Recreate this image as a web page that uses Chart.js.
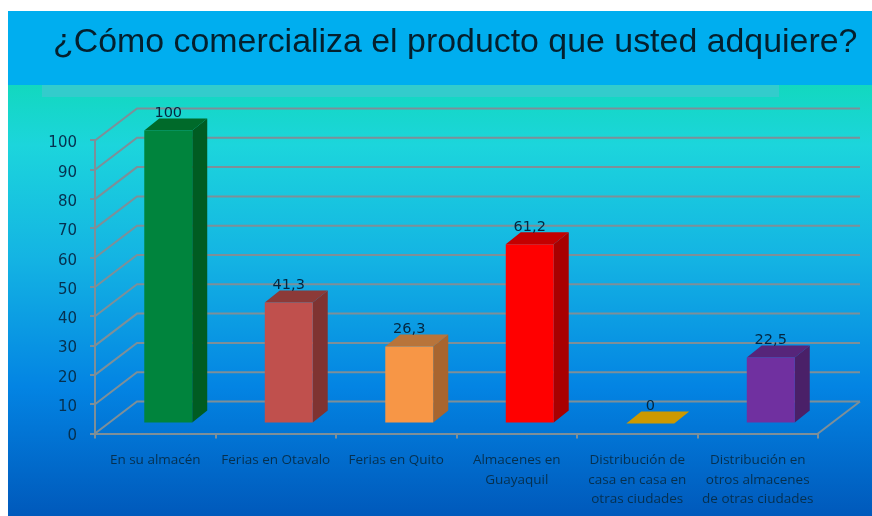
<!DOCTYPE html>
<html lang="es">
<head>
<meta charset="utf-8">
<title>Comercialización</title>
<style>
    html, body { margin: 0; padding: 0; background: #fff; }
    canvas { display: block; }
</style>
<script src="https://cdn.jsdelivr.net/npm/chart.js@4"></script>
</head>
<body>
<canvas id="chart" width="872" height="516"></canvas>
<script>
    "use strict";

    var chartTitle = "¿Cómo comercializa el producto que usted adquiere?";
    var categories = [
        "En su almacén",
        "Ferias en Otavalo",
        "Ferias en Quito",
        ["Almacenes en", "Guayaquil"],
        ["Distribución de", "casa en casa en", "otras ciudades"],
        ["Distribución en", "otros almacenes", "de otras ciudades"]
    ];
    var percentages = [100, 41.3, 26.3, 61.2, 0, 22.5];

    var frontColors = ["#00843d", "#c0504d", "#f79646", "#ff0000", "#cc9900", "#7030a0"];
    var sideColors = ["#005c22", "#7f3331", "#a8652f", "#a80000", "#8a6800", "#4a2068"];
    var topColors = ["#006a2a", "#8c3a38", "#b8743a", "#c40000", "#cc9900", "#56257a"];

    var GRID_COLOR = "#7e8f98";
    var TEXT_COLOR = "#06304f";

    // offset of the back wall from the axes, and of the bars from the axes
    var WALL_DX = 42, WALL_DY = -32;
    var BAR_DX = 13, BAR_DY = -10;
    var DEPTH_DX = 15, DEPTH_DY = -12;

    function polygon(ctx, points, color) {
        ctx.fillStyle = color;
        ctx.beginPath();
        points.forEach(function (p, i) {
            if (i === 0) ctx.moveTo(p[0], p[1]);
            else ctx.lineTo(p[0], p[1]);
        });
        ctx.closePath();
        ctx.fill();
    }

    var slidePlugin = {
        id: "slide",
        // the title would otherwise get squeezed into the plot width
        afterLayout: function (chart) {
            chart.titleBlock.right = chart.width;
        },
        beforeDraw: function (chart) {
            var ctx = chart.ctx;
            var gradient = ctx.createLinearGradient(0, 85, 0, 516);
            gradient.addColorStop(0, "#12d8bf");
            gradient.addColorStop(0.14, "#1cd5dc");
            gradient.addColorStop(0.4, "#14b4e3");
            gradient.addColorStop(0.7, "#0384e3");
            gradient.addColorStop(1, "#0059bb");

            ctx.save();
            ctx.fillStyle = "#00aeef";
            ctx.fillRect(8, 11, 864, 74);
            ctx.fillStyle = gradient;
            ctx.fillRect(8, 85, 864, 431);
            ctx.fillStyle = "#33cccc";
            ctx.fillRect(42, 85, 737, 12);
            ctx.restore();
        }
    };

    // back wall lines and the side wall diagonals, taken from the value scale
    var wallPlugin = {
        id: "wall",
        beforeDatasetsDraw: function (chart) {
            var ctx = chart.ctx,
                area = chart.chartArea,
                yScale = chart.scales.y;

            ctx.save();
            ctx.strokeStyle = GRID_COLOR;
            ctx.lineWidth = 2;
            yScale.ticks.forEach(function (tick) {
                var y = yScale.getPixelForValue(tick.value);
                ctx.beginPath();
                ctx.moveTo(area.left, y);
                ctx.lineTo(area.left + WALL_DX, y + WALL_DY);
                ctx.lineTo(area.right + WALL_DX, y + WALL_DY);
                ctx.stroke();
            });
            ctx.beginPath();
            ctx.moveTo(area.right, area.bottom);
            ctx.lineTo(area.right + WALL_DX, area.bottom + WALL_DY);
            ctx.stroke();
            ctx.restore();
        }
    };

    // the built-in y labels get clipped to the axis box and sit a bit high
    var yLabelPlugin = {
        id: "yLabels",
        afterDraw: function (chart) {
            var ctx = chart.ctx,
                yScale = chart.scales.y;

            ctx.save();
            ctx.font = "15px 'DejaVu Sans'";
            ctx.fillStyle = TEXT_COLOR;
            ctx.textAlign = "right";
            ctx.textBaseline = "middle";
            yScale.ticks.forEach(function (tick) {
                ctx.fillText(tick.label, 77, yScale.getPixelForValue(tick.value) + 3);
            });
            ctx.restore();
        }
    };

    // side and top faces of the bars, then the bars themselves moved into the room
    var depthPlugin = {
        id: "depth",
        beforeDatasetsDraw: function (chart) {
            var ctx = chart.ctx;

            ctx.save();
            ctx.translate(BAR_DX, BAR_DY);
            chart.getDatasetMeta(0).data.forEach(function (bar, i) {
                var left = bar.x - bar.width / 2,
                    right = bar.x + bar.width / 2;

                polygon(ctx, [
                    [right, bar.y],
                    [right + DEPTH_DX, bar.y + DEPTH_DY],
                    [right + DEPTH_DX, bar.base + DEPTH_DY],
                    [right, bar.base]
                ], sideColors[i]);
                polygon(ctx, [
                    [left, bar.y],
                    [left + DEPTH_DX, bar.y + DEPTH_DY],
                    [right + DEPTH_DX, bar.y + DEPTH_DY],
                    [right, bar.y]
                ], topColors[i]);
            });
        },
        afterDatasetsDraw: function (chart) {
            var ctx = chart.ctx;

            ctx.restore();

            ctx.save();
            ctx.font = "14.5px 'DejaVu Sans'";
            ctx.fillStyle = "#04263f";
            ctx.textAlign = "center";
            ctx.textBaseline = "middle";
            chart.getDatasetMeta(0).data.forEach(function (bar, i) {
                var label = String(percentages[i]).replace(".", ",");
                ctx.fillText(label, bar.x + BAR_DX, bar.y + BAR_DY - 17);
            });
            ctx.restore();
        }
    };

    new Chart(document.getElementById("chart"), {
        type: "bar",
        data: {
            labels: categories,
            datasets: [{
                data: percentages,
                backgroundColor: frontColors,
                barPercentage: 0.398,
                categoryPercentage: 1,
                clip: false
            }]
        },
        plugins: [slidePlugin, wallPlugin, depthPlugin, yLabelPlugin],
        options: {
            responsive: false,
            animation: false,
            layout: {
                padding: { left: 53, right: 54, top: 0, bottom: 0 }
            },
            plugins: {
                legend: { display: false },
                tooltip: { enabled: false },
                title: {
                    display: true,
                    text: chartTitle,
                    align: "start",
                    color: "#04202e",
                    font: { family: "'Liberation Sans'", size: 33.9, weight: "normal", lineHeight: 1.2 },
                    padding: { top: 22, bottom: 77.8 }
                }
            },
            scales: {
                x: {
                    afterFit: function (scale) { scale.height = 82.5; },
                    grid: {
                        drawOnChartArea: false,
                        color: GRID_COLOR,
                        tickColor: GRID_COLOR,
                        tickLength: 5,
                        lineWidth: 2
                    },
                    border: { color: GRID_COLOR, width: 2 },
                    ticks: {
                        color: TEXT_COLOR,
                        autoSkip: false,
                        maxRotation: 0,
                        padding: 12,
                        font: { family: "'Open Sans'", size: 13.5, lineHeight: 1.44 }
                    }
                },
                y: {
                    min: 0,
                    max: 100,
                    afterFit: function (scale) { scale.width = 42; },
                    grid: {
                        drawOnChartArea: false,
                        color: GRID_COLOR,
                        tickColor: GRID_COLOR,
                        tickLength: 5,
                        lineWidth: 2
                    },
                    border: { color: GRID_COLOR, width: 2 },
                    ticks: {
                        display: false,
                        stepSize: 10
                    }
                }
            }
        }
    });
</script>
</body>
</html>
